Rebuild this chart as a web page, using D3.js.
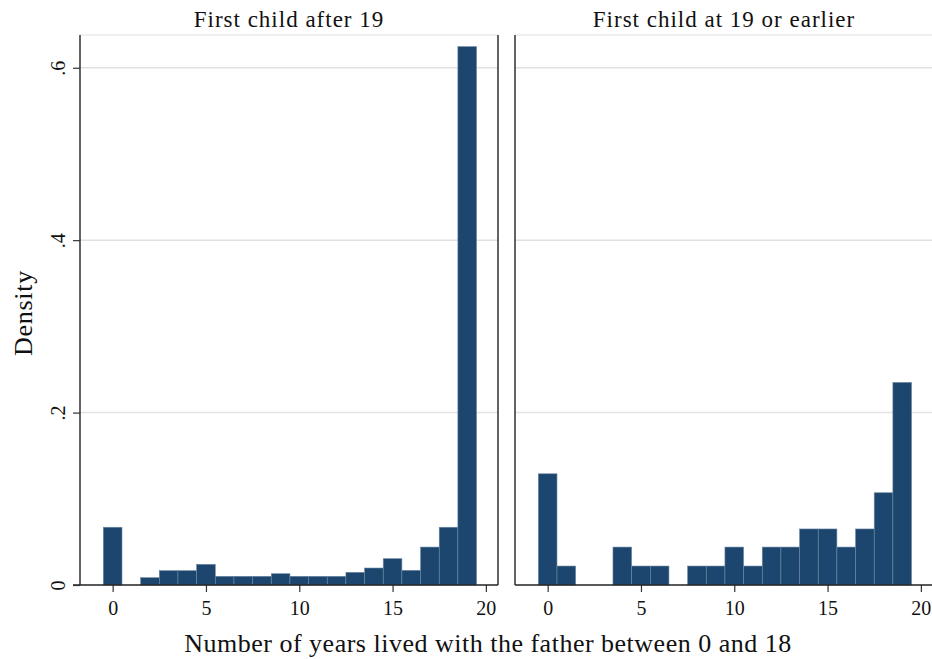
<!DOCTYPE html>
<html>
<head>
<meta charset="utf-8">
<script src="https://cdn.jsdelivr.net/npm/d3@7"></script>
<style>
  html, body { margin: 0; padding: 0; background: #fff; }
  svg { display: block; }
  text { font-family: "Liberation Serif", "DejaVu Serif", serif; fill: #111; }
</style>
</head>
<body>
<svg id="chart" width="932" height="659"></svg>
<script>
// Years lived with the father (bin centres)
const years = d3.range(0, 20);

// Histogram densities per panel
const densityAfter19 = [0.067, 0, 0.0085, 0.0166, 0.0166, 0.024, 0.0101, 0.0101, 0.0101, 0.0131,
                        0.0101, 0.0101, 0.0101, 0.0147, 0.0197, 0.0305, 0.017, 0.044, 0.067, 0.6245];
const densityBy19   = [0.129, 0.022, 0, 0, 0.044, 0.022, 0.022, 0, 0.022, 0.022,
                       0.044, 0.022, 0.044, 0.044, 0.065, 0.065, 0.044, 0.065, 0.107, 0.235];

const panelTitles = ["First child after 19", "First child at 19 or earlier"];
const xTicks = [0, 5, 10, 15, 20];
const yTicks = [0, 0.2, 0.4, 0.6];
const yTickLabels = ["0", ".2", ".4", ".6"];
const xTitle = "Number of years lived with the father between 0 and 18";
const yTitle = "Density";

const panels = [
  { title: panelTitles[0], values: densityAfter19, left: 80, right: 498, yAxis: true, rightBorder: true },
  { title: panelTitles[1], values: densityBy19, left: 515, right: 933, yAxis: false, rightBorder: false }
];

const plotTop = 35, plotBottom = 585;
const barFill = "#1c466d", barEdge = "#6d89a4";
const gridColor = "#e1e1e1";

const svg = d3.select("#chart");
const y = d3.scaleLinear().domain([0, 0.638]).range([plotBottom, plotTop]);

panels.forEach(p => {
  const x = d3.scaleLinear().domain([-1.75, 20.65]).range([p.left, p.right]);
  const g = svg.append("g");

  // top frame line and horizontal gridlines
  g.append("line").attr("x1", p.left).attr("x2", p.right).attr("y1", plotTop).attr("y2", plotTop)
    .attr("stroke", gridColor).attr("stroke-width", 1.2);
  g.selectAll(".grid").data(yTicks.slice(1)).join("line")
    .attr("x1", p.left).attr("x2", p.right)
    .attr("y1", d => y(d)).attr("y2", d => y(d))
    .attr("stroke", gridColor).attr("stroke-width", 1.5);

  // bars
  g.selectAll(".bar").data(years.map((yr, i) => ({ yr, v: p.values[i] })).filter(d => d.v > 0))
    .join("rect")
    .attr("x", d => x(d.yr - 0.5))
    .attr("width", d => x(d.yr + 0.5) - x(d.yr - 0.5))
    .attr("y", d => y(d.v))
    .attr("height", d => y(0) - y(d.v))
    .attr("fill", barFill)
    .attr("stroke", barEdge)
    .attr("stroke-width", 0.6);

  // x axis
  const xAxis = d3.axisBottom(x).tickValues(xTicks).tickSize(7).tickPadding(9).tickFormat(d3.format("d"));
  const xa = g.append("g").attr("transform", `translate(0,${plotBottom})`).call(xAxis);
  xa.select(".domain").remove();
  xa.selectAll(".tick line").attr("stroke", "#333").attr("stroke-width", 1.2);
  xa.selectAll(".tick text").attr("font-size", 20).attr("font-family", "Liberation Serif").attr("fill", "#111");
  g.append("line").attr("x1", p.yAxis ? p.left - 7 : p.left).attr("x2", p.right)
    .attr("y1", plotBottom).attr("y2", plotBottom).attr("stroke", "#222").attr("stroke-width", 1.4);

  // y axis line
  g.append("line").attr("x1", p.left).attr("x2", p.left).attr("y1", plotTop).attr("y2", plotBottom)
    .attr("stroke", "#222").attr("stroke-width", 1.4);
  if (p.rightBorder) {
    g.append("line").attr("x1", p.right).attr("x2", p.right).attr("y1", plotTop).attr("y2", plotBottom)
      .attr("stroke", "#222").attr("stroke-width", 1.4);
  }

  if (p.yAxis) {
    const ya = g.append("g").attr("transform", `translate(${p.left},0)`)
      .call(d3.axisLeft(y).tickValues(yTicks).tickSize(7).tickFormat((d, i) => yTickLabels[i]));
    ya.select(".domain").remove();
    ya.selectAll(".tick line").attr("stroke", "#333").attr("stroke-width", 1.2);
    ya.selectAll(".tick text")
      .attr("font-size", 20).attr("font-family", "Liberation Serif").attr("fill", "#111")
      .attr("text-anchor", "middle").attr("x", null).attr("dy", null)
      .attr("transform", "translate(-15,0) rotate(-90)");
  }

  // panel title
  g.append("text").attr("x", (p.left + p.right) / 2).attr("y", 27)
    .attr("text-anchor", "middle").attr("font-size", 23).attr("letter-spacing", 1).text(p.title);
});

// shared axis titles
svg.append("text").attr("x", 488).attr("y", 652).attr("text-anchor", "middle")
  .attr("font-size", 26).attr("letter-spacing", 0.5).text(xTitle);
svg.append("text").attr("transform", "translate(31.5,313) rotate(-90)").attr("text-anchor", "middle")
  .attr("font-size", 26).attr("letter-spacing", 0.7).text(yTitle);
</script>
</body>
</html>
